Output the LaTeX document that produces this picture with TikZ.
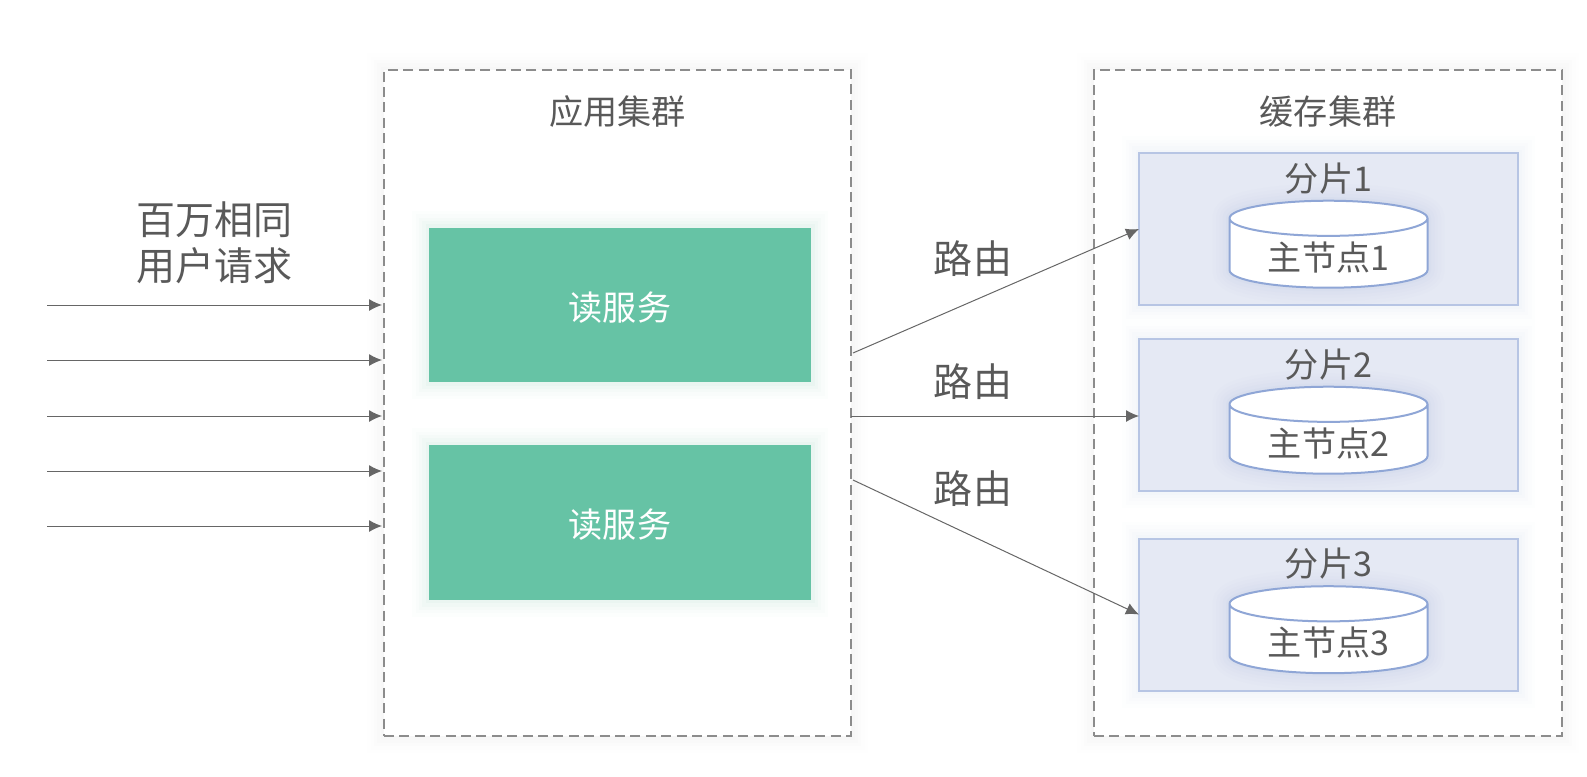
\documentclass[tikz,border=0pt]{standalone}
\usepackage{fontspec}
\setmainfont{Noto Sans CJK SC}
\usetikzlibrary{positioning,arrows.meta,shapes.geometric}
\definecolor{inkgray}{HTML}{595959}
\definecolor{dashgray}{HTML}{8C8C8C}
\definecolor{readgreen}{HTML}{66C3A5}
\definecolor{shardfill}{HTML}{E5E9F4}
\definecolor{shardline}{HTML}{B7C5E4}
\definecolor{dbline}{HTML}{8FA6D6}
\tikzset{
    glow/.style={
        preaction={draw=#1, solid, draw opacity=0.015, line width=0.34cm},
        preaction={draw=#1, solid, draw opacity=0.02, line width=0.27cm},
        preaction={draw=#1, solid, draw opacity=0.025, line width=0.20cm},
        preaction={draw=#1, solid, draw opacity=0.03, line width=0.14cm},
        preaction={draw=#1, solid, draw opacity=0.04, line width=0.07cm}
    },
    cluster/.style={
        glow=black!25,
        rectangle,
        draw=dashgray,
        line width=0.02cm,
        dash pattern=on 0.10cm off 0.054cm,
        fill=white,
        inner sep=0pt,
        outer sep=0pt,
        minimum height=6.66cm
    },
    readbox/.style={
        glow=readgreen,
        rectangle,
        fill=readgreen,
        text=white,
        inner sep=0pt,
        outer sep=0pt,
        minimum width=3.82cm,
        minimum height=1.545cm,
        text height=0.36cm,
        text depth=0.06cm,
        font=\fontsize{9.7pt}{12pt}\selectfont
    },
    shard/.style={
        glow=shardline,
        rectangle,
        draw=shardline,
        line width=0.02cm,
        fill=shardfill,
        inner sep=0pt,
        outer sep=0pt,
        minimum width=3.79cm,
        minimum height=1.52cm
    },
    master/.style={
        glow=dbline,
        cylinder,
        shape border rotate=90,
        aspect=0.29,
        draw=dbline,
        line width=0.02cm,
        fill=white,
        text=inkgray,
        inner sep=0pt,
        outer sep=0pt,
        minimum width=1.98cm,
        minimum height=0.87cm,
        text height=0.33cm,
        text depth=0cm,
        font=\fontsize{9.7pt}{12pt}\selectfont
    },
    title/.style={
        text=inkgray,
        inner sep=0pt,
        font=\fontsize{9.7pt}{12pt}\selectfont
    },
    biglabel/.style={
        text=inkgray,
        inner sep=0pt,
        align=center,
        font=\fontsize{11.1pt}{13.1pt}\selectfont
    },
    line/.style={
        -{Latex[length=0.13cm,width=0.12cm]},
        line width=0.01cm,
        draw=black!60
    }
}

\begin{document}
\begin{tikzpicture}[node distance=0.34cm]

    \useasboundingbox (0,0) rectangle (15.87,-7.76);

    % clusters
    \node[cluster, minimum width=4.67cm] (app) at (6.175,-4.03) {};
    \node[cluster, minimum width=4.68cm] (cache) at (13.28,-4.03) {};
    \node[title, below=0.25cm of app.north] (apptitle) {应用集群};
    \node[title, below=0.25cm of cache.north] (cachetitle) {缓存集群};

    % read services
    \node[readbox] (read1) at (6.20,-3.05) {读服务};
    \node[readbox, below=0.63cm of read1] (read2) {读服务};

    % shards
    \node[shard] (shard1) at (13.285,-2.29) {};
    \node[shard, below=of shard1] (shard2) {};
    \node[shard, below=0.475cm of shard2] (shard3) {};

    \node[master] (master1) at ([yshift=-0.245cm]shard1.center) {主节点1};
    \node[master] (master2) at ([yshift=-0.245cm]shard2.center) {主节点2};
    \node[master] (master3) at ([yshift=-0.245cm]shard3.center) {主节点3};

    \node[title, above=0.06cm of master1] (label1) {分片1};
    \node[title, above=0.06cm of master2] (label2) {分片2};
    \node[title, above=0.06cm of master3] (label3) {分片3};

    % labels
    \node[biglabel] (users) at (2.145,-2.43) {百万相同\\用户请求};
    \node[biglabel] (route1) at (9.73,-2.59) {路由};
    \node[biglabel] (route2) at (9.73,-3.82) {路由};
    \node[biglabel] (route3) at (9.73,-4.89) {路由};

    % requests
    \coordinate (in1) at (0.47,-3.05);
    \coordinate (in2) at (0.47,-3.60);
    \coordinate (in3) at (0.47,-4.16);
    \coordinate (in4) at (0.47,-4.71);
    \coordinate (in5) at (0.47,-5.26);

    \draw[line, shorten >=0.02cm] (in1) -- (in1 -| app.west);
    \draw[line, shorten >=0.02cm] (in2) -- (in2 -| app.west);
    \draw[line, shorten >=0.02cm] (in3) -- (in3 -| app.west);
    \draw[line, shorten >=0.02cm] (in4) -- (in4 -| app.west);
    \draw[line, shorten >=0.02cm] (in5) -- (in5 -| app.west);

    % routes
    \coordinate (out1) at (8.53,-3.53);
    \coordinate (out2) at (8.51,-4.16);
    \coordinate (out3) at (8.53,-4.80);

    \draw[line] (out1) -- (shard1.west);
    \draw[line] (out2) -- (out2 -| shard2.west);
    \draw[line] (out3) -- (shard3.west);

\end{tikzpicture}
\end{document}
